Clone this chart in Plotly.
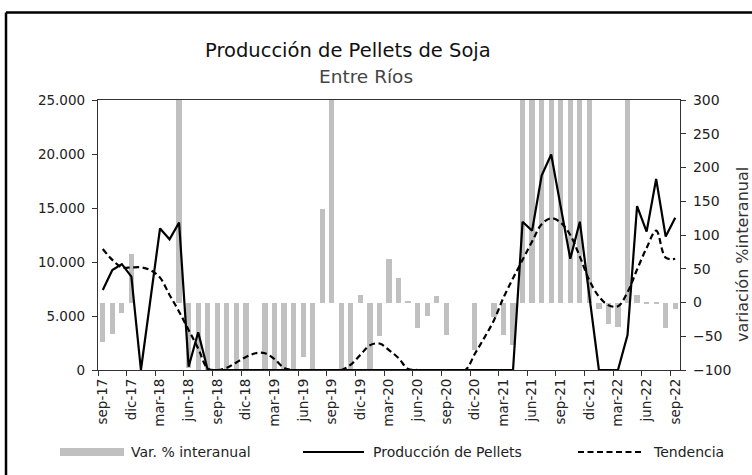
import plotly.graph_objects as go

# ---------------- data ----------------
categorias = [
    "sep-17", "oct-17", "nov-17", "dic-17", "ene-18", "feb-18", "mar-18", "abr-18", "may-18", "jun-18", "jul-18", "ago-18",
    "sep-18", "oct-18", "nov-18", "dic-18", "ene-19", "feb-19", "mar-19", "abr-19", "may-19", "jun-19", "jul-19", "ago-19",
    "sep-19", "oct-19", "nov-19", "dic-19", "ene-20", "feb-20", "mar-20", "abr-20", "may-20", "jun-20", "jul-20", "ago-20",
    "sep-20", "oct-20", "nov-20", "dic-20", "ene-21", "feb-21", "mar-21", "abr-21", "may-21", "jun-21", "jul-21", "ago-21",
    "sep-21", "oct-21", "nov-21", "dic-21", "ene-22", "feb-22", "mar-22", "abr-22", "may-22", "jun-22", "jul-22", "ago-22",
    "sep-22",
]

produccion = [
    7400, 9250, 9800, 8650, 0, 6500, 13100, 12100, 13650, 300, 3500, 0,
    0, 0, 0, 0, 0, 0, 0, 0, 0, 0, 0, 0,
    0, 0, 0, 0, 0, 0, 0, 0, 0, 0, 0, 0,
    0, 0, 0, 0, 0, 0, 0, 0, 13730, 12900, 18000, 19950,
    15100, 10300, 13730, 6800, 0, 0, 0, 3240, 15180, 12810, 17690, 12350,
    14100,
]

tendencia = [
    11200, 10200, 9500, 9500, 9500, 9250, 8550, 6950, 5400, 3700, 2000, 150,
    0, 200, 700, 1200, 1550, 1550, 1000, 200, 0, 0, 0, 0,
    0, 0, 500, 1400, 2300, 2450, 1850, 1100, 100, 0, 0, 0,
    0, 0, 0, 1500, 3000, 4600, 6700, 8500, 10200, 11900, 13500, 14050,
    13650, 12500, 10500, 8300, 6800, 6000, 5900, 7200, 9300, 11300, 12900, 10400,
    10300,
]

var_interanual = [
    -59, -46, -16, 72, None, None, None, None, 350, -97, -100, -100,
    -100, -100, -100, -100, None, -100, -100, -100, -100, -81, -100, 139,
    350, -100, -100, 11, -100, -50, 64, 36, 2, -38, -20, 9,
    -48, None, None, -70, None, -21, -48, -63, 350, 350, 350, 350,
    350, 350, 350, 350, -10, -32, -36, 350, 11, -1, -1, -38,
    -10,
]

ticks_x = ["sep-17", "dic-17", "mar-18", "jun-18", "sep-18", "dic-18", "mar-19", "jun-19", "sep-19",
           "dic-19", "mar-20", "jun-20", "sep-20", "dic-20", "mar-21", "jun-21", "sep-21", "dic-21",
           "mar-22", "jun-22", "sep-22"]

titulo = "Producción de Pellets de Soja"
subtitulo = "Entre Ríos"
titulo_eje_der = "variación %interanual"

# ---------------- figure ----------------
W, H = 752, 475
ML, MR, MT, MB = 98, 72, 100, 105
PW, PH = W - ML - MR, H - MT - MB
FONT = "DejaVu Sans"


def px(x):
    return (x - ML) / PW


def py(y):
    return (H - MB - y) / PH


idx = list(range(len(categorias)))
tick_idx = [categorias.index(t) for t in ticks_x]

fig = go.Figure()
fig.add_trace(go.Bar(x=idx, y=var_interanual, yaxis="y", marker_color="#C0C0C0",
                     marker_line_width=0, width=0.55, name="Var. % interanual"))
fig.add_trace(go.Scatter(x=idx, y=produccion, yaxis="y2", mode="lines",
                         line=dict(color="black", width=2.2), name="Producción de Pellets"))
fig.add_trace(go.Scatter(x=idx, y=tendencia, yaxis="y2", mode="lines",
                         line=dict(color="black", width=2.2, dash="6px,3.5px", shape="spline", smoothing=1),
                         name="Tendencia"))

axis_font = dict(family=FONT, size=13.5, color="#222")

fig.update_layout(
    width=W, height=H,
    margin=dict(l=ML, r=MR, t=MT, b=MB, autoexpand=False),
    paper_bgcolor="white", plot_bgcolor="white",
    showlegend=False,
    separators=",.",
    font=dict(family=FONT, color="#222"),
    bargap=0,
    xaxis=dict(range=[-0.5, len(categorias) - 0.5], tickmode="array", tickvals=tick_idx, ticktext=ticks_x,
               tickangle=-90, ticks="", showline=True, linecolor="#333", linewidth=1.3, mirror=True,
               showgrid=False, zeroline=False, tickfont=dict(family=FONT, size=13.5, color="#222"),
               ticklabelstandoff=2,
               minor=dict(tick0=-0.5, dtick=3, ticks="outside", ticklen=5, tickcolor="#333", tickwidth=1)),
    yaxis=dict(side="right", range=[-100, 300], dtick=50, ticks="outside", ticklen=5, tickcolor="#333",
               showline=True, linecolor="#333", linewidth=1.3, showgrid=False, zeroline=False,
               tickfont=dict(family=FONT, size=14, color="#222"), ticklabelstandoff=4),
    yaxis2=dict(side="left", overlaying="y", range=[0, 25000], dtick=5000, tickformat=",d",
                ticks="outside", ticklen=5, tickcolor="#333", showline=True, linecolor="#333",
                linewidth=1.3, showgrid=False, zeroline=False, tickfont=axis_font, ticklabelstandoff=4),
)

# titles
fig.add_annotation(text=titulo, xref="paper", yref="paper", x=px(203), y=py(51), showarrow=False,
                   xanchor="left", yanchor="middle", font=dict(family=FONT, size=19.5, color="#111"))
fig.add_annotation(text=subtitulo, xref="paper", yref="paper", x=px(317), y=py(76), showarrow=False,
                   xanchor="left", yanchor="middle", font=dict(family=FONT, size=18.5, color="#444"))
fig.add_annotation(text=titulo_eje_der, xref="paper", yref="paper", x=px(742), y=py(255), showarrow=False,
                   textangle=-90, xanchor="center", yanchor="middle",
                   font=dict(family=FONT, size=16, color="#333"))

# outer frame (left and top edges visible)
fig.add_shape(type="line", xref="paper", yref="paper", x0=px(6), x1=px(6), y0=py(12.5), y1=py(H + 5),
              line=dict(color="black", width=2.5))
fig.add_shape(type="line", xref="paper", yref="paper", x0=px(6), x1=px(W + 5), y0=py(12.5), y1=py(12.5),
              line=dict(color="black", width=2.5))

# manual legend
ly = 452
leg_font = dict(family=FONT, size=14, color="#222")
fig.add_shape(type="rect", xref="paper", yref="paper", x0=px(60), x1=px(124), y0=py(456), y1=py(448),
              fillcolor="#C0C0C0", line=dict(width=0))
fig.add_annotation(text="Var. % interanual", xref="paper", yref="paper", x=px(129), y=py(ly), showarrow=False,
                   xanchor="left", yanchor="middle", font=leg_font)
fig.add_shape(type="line", xref="paper", yref="paper", x0=px(303), x1=px(364), y0=py(ly), y1=py(ly),
              line=dict(color="black", width=2.2))
fig.add_annotation(text="Producción de Pellets", xref="paper", yref="paper", x=px(371), y=py(ly),
                   showarrow=False, xanchor="left", yanchor="middle", font=leg_font)
fig.add_shape(type="line", xref="paper", yref="paper", x0=px(578), x1=px(644), y0=py(ly), y1=py(ly),
              line=dict(color="black", width=2.2, dash="6px,3.5px"))
fig.add_annotation(text="Tendencia", xref="paper", yref="paper", x=px(651), y=py(ly), showarrow=False,
                   xanchor="left", yanchor="middle", font=leg_font)

fig.write_html("out.html", config={"displayModeBar": False},
               post_script="document.body.style.margin='0';document.body.style.overflow='hidden';")
